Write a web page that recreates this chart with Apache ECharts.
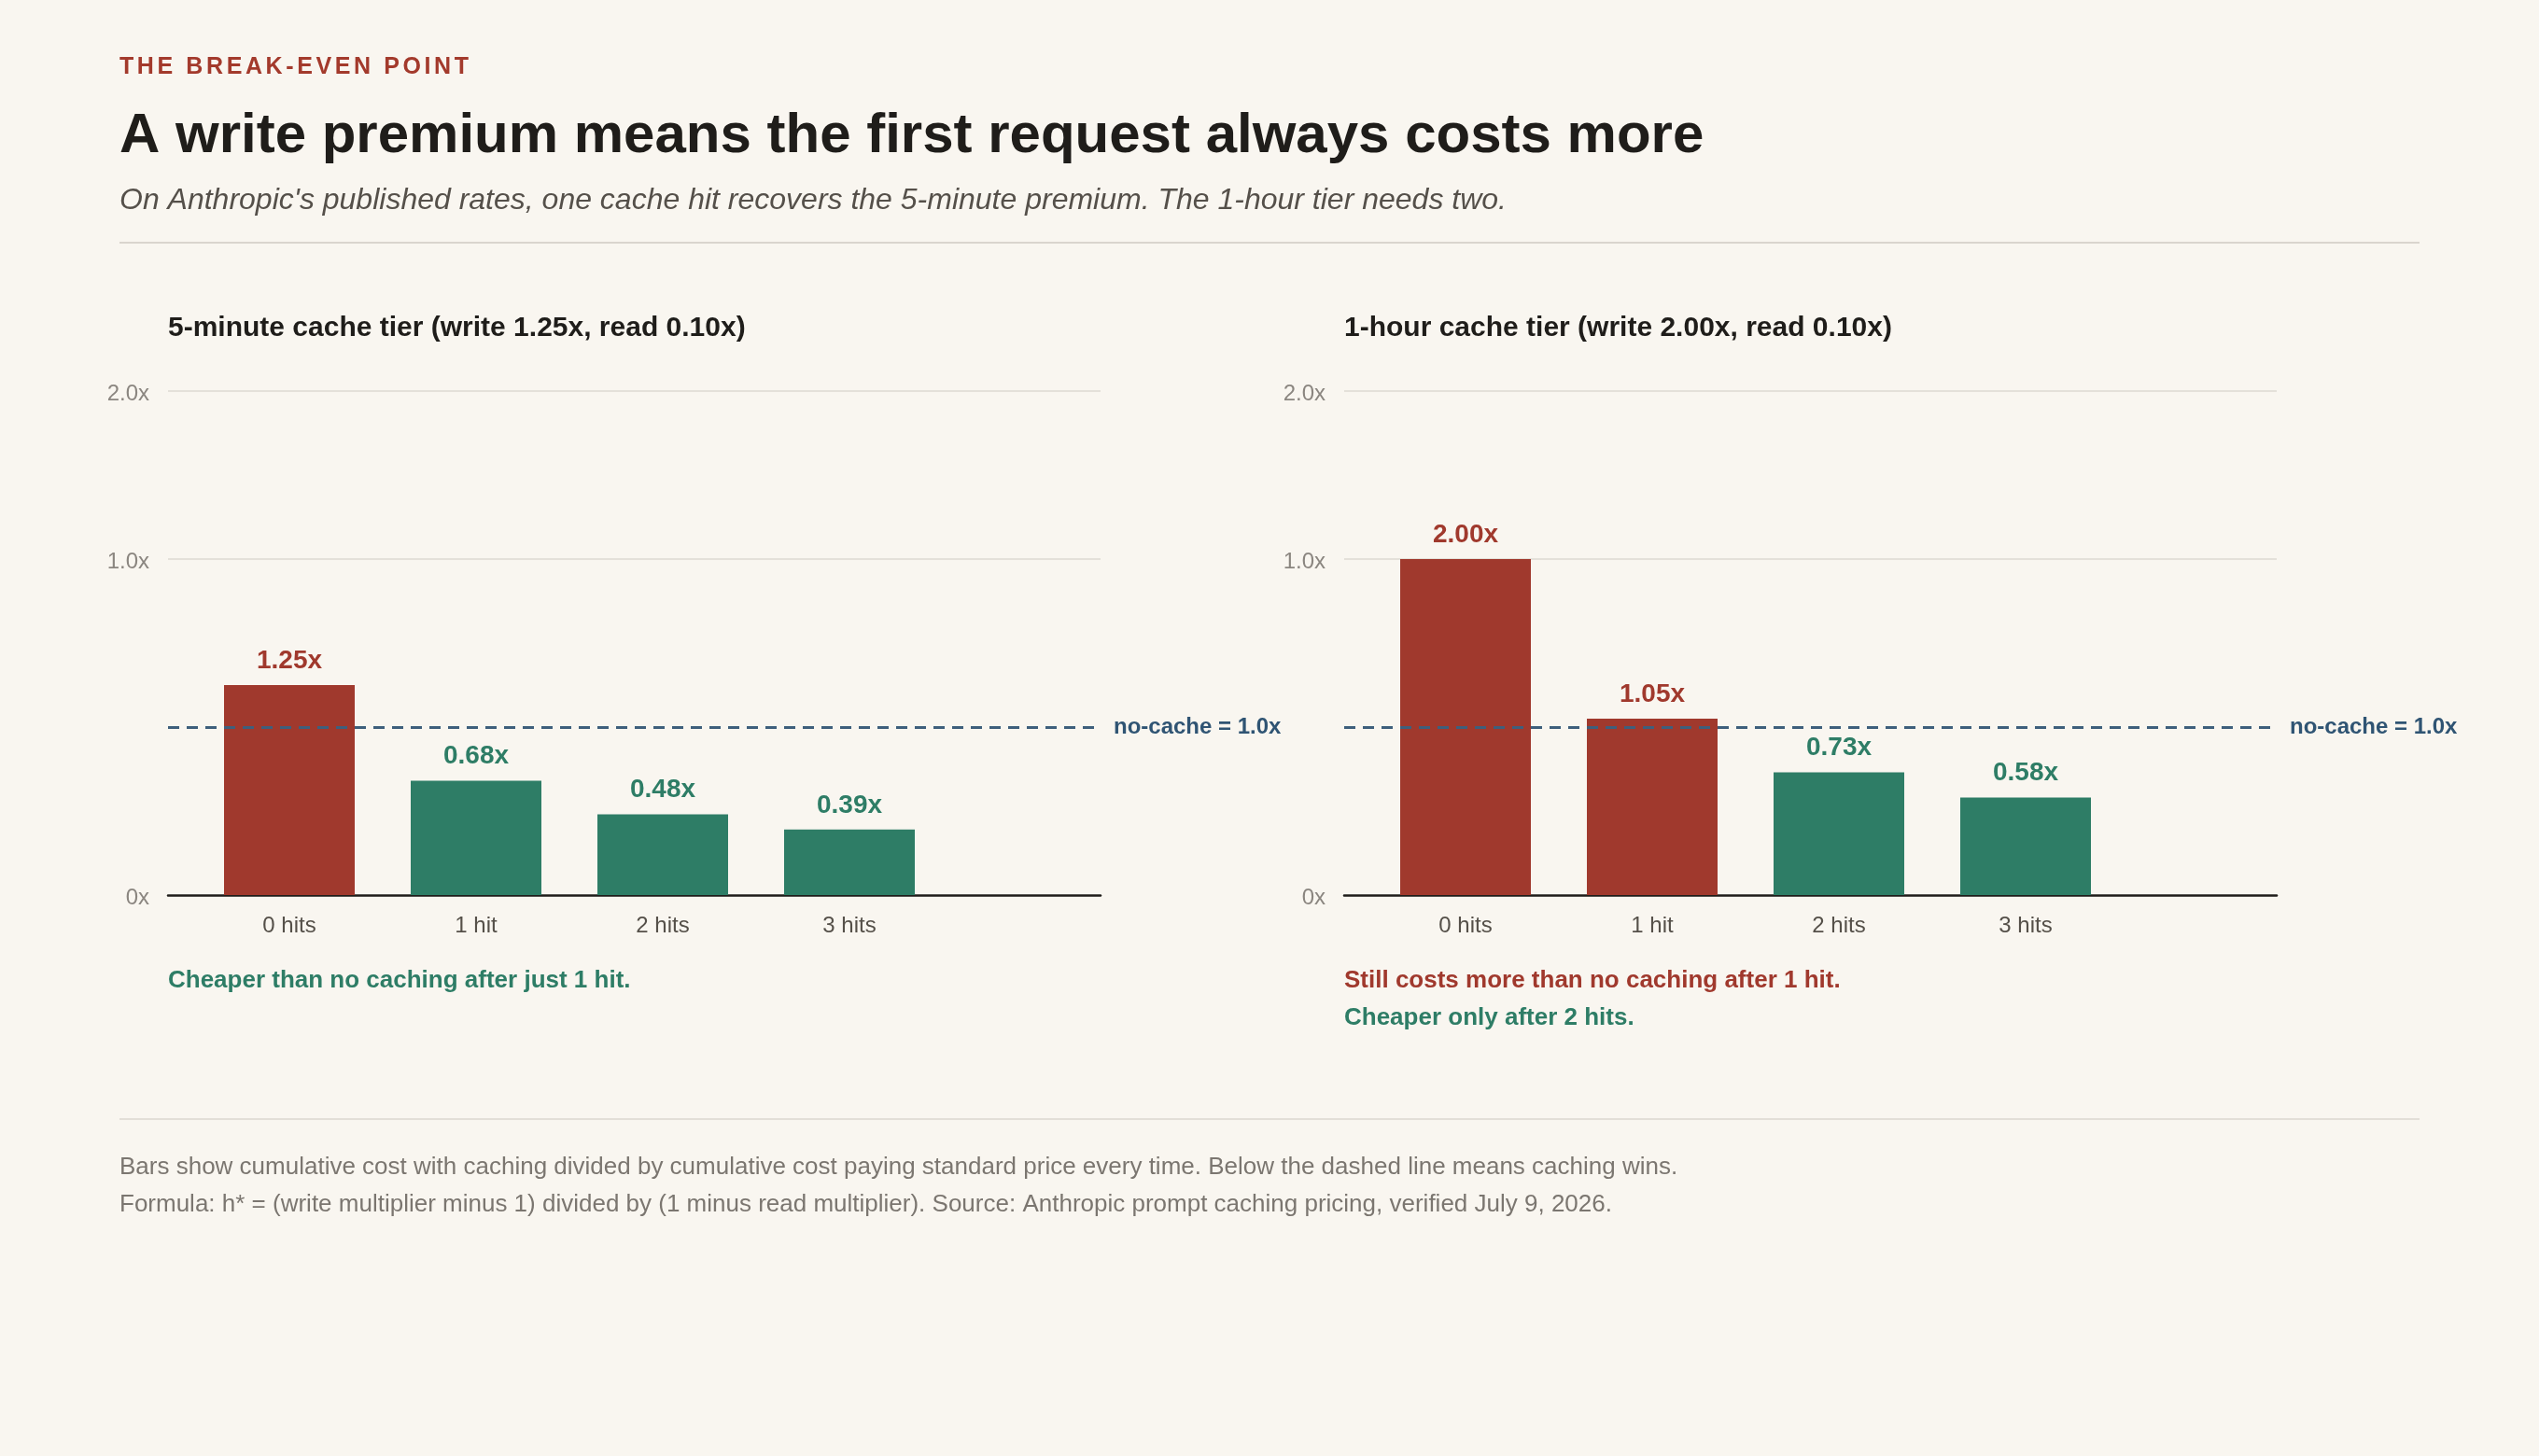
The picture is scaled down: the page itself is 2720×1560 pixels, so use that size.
<!DOCTYPE html>
<html>
<head>
<meta charset="utf-8">
<script src="https://cdn.jsdelivr.net/npm/echarts@6/dist/echarts.min.js"></script>
<style>
html,body{margin:0;padding:0;background:#f9f6f0;}
#wrap{position:relative;width:2720px;height:1560px;}
#chart{width:2720px;height:1560px;}
#eyebrow{position:absolute;left:128px;top:55px;margin:0;font-family:'Liberation Sans',Arial,sans-serif;font-weight:bold;font-size:25px;line-height:30px;letter-spacing:3.6px;color:#a33a2c;white-space:nowrap;}
</style>
</head>
<body>
<div id="wrap">
<div id="chart"></div>
<div id="eyebrow">THE BREAK-EVEN POINT</div>
</div>
<script>
// ---- data ----
const categories = ['0 hits', '1 hit', '2 hits', '3 hits'];
const fiveMinuteValues = [1.25, 0.68, 0.48, 0.39];
const oneHourValues = [2.00, 1.05, 0.73, 0.58];
const yTickLabels = ['0x', '', '1.0x', '2.0x']; // labels as printed on the reference axis (ticks 0..3)
const noCacheValue = 1.0;
const panelTitles = ['5-minute cache tier (write 1.25x, read 0.10x)', '1-hour cache tier (write 2.00x, read 0.10x)'];

// ---- style ----
const FONT = "'Liberation Sans', Arial, sans-serif";
const RED = '#a0392d';
const GREEN = '#2e7d66';
const BG = '#f9f6f0';

const chart = echarts.init(document.getElementById('chart'), null, {renderer: 'canvas'});

const GRID_TOP = 419, GRID_H = 540;
const panels = [{x: 180, values: fiveMinuteValues}, {x: 1440, values: oneHourValues}];

const grid = [], xAxis = [], yAxis = [], series = [];
panels.forEach((p, k) => {
  // frame grid (axis line, gridlines, y labels, reference line)
  grid.push({left: p.x, width: 999, top: GRID_TOP, height: GRID_H});
  // bar grid (category bands)
  grid.push({left: p.x + 30, width: 800, top: GRID_TOP, height: GRID_H});
  const gFrame = 2 * k, gBars = 2 * k + 1;
  xAxis.push({
    gridIndex: gFrame, type: 'value', min: 0, max: 1,
    axisLine: {show: true, onZero: false, lineStyle: {color: '#1f1d1a', width: 2.5}},
    axisTick: {show: false}, axisLabel: {show: false}, splitLine: {show: false}
  });
  xAxis.push({
    gridIndex: gBars, type: 'category', data: categories,
    axisLine: {show: false}, axisTick: {show: false}, splitLine: {show: false},
    axisLabel: {color: '#555049', fontSize: 24, fontFamily: FONT, margin: 21}
  });
  yAxis.push({
    gridIndex: gFrame, type: 'value', min: 0, max: 3, interval: 1,
    axisLine: {show: false}, axisTick: {show: false},
    axisLabel: {color: '#8b8680', fontSize: 24, fontFamily: FONT, margin: 20,
      verticalAlign: 'top', lineHeight: 7,
      formatter: v => yTickLabels[Math.round(v)]},
    splitLine: {show: true, showMinLine: true, showMaxLine: true,
      lineStyle: {color: ['rgba(0,0,0,0)', 'rgba(0,0,0,0)', '#e4e0d9', '#e4e0d9'], width: 2}}
  });
  yAxis.push({
    gridIndex: gBars, type: 'value', min: 0, max: 3, show: false, splitLine: {show: false}
  });
  series.push({
    type: 'line', xAxisIndex: gFrame, yAxisIndex: gFrame, data: [], z: 1,
    silent: true, animation: false,
    markLine: {
      silent: true, symbol: ['none', 'none'], animation: false,
      lineStyle: {color: '#3e5f7c', width: 3, type: [12, 8]},
      label: {show: true, position: 'end', distance: 14, formatter: 'no-cache = 1.0x',
        color: '#2f5473', fontSize: 24, fontWeight: 'bold', fontFamily: FONT},
      emphasis: {disabled: true},
      data: [{yAxis: noCacheValue}]
    }
  });
  series.push({
    type: 'bar', xAxisIndex: gBars, yAxisIndex: gBars, barWidth: '70%', z: 3,
    animation: false,
    data: p.values.map(v => ({value: v, itemStyle: {color: v > noCacheValue ? RED : GREEN},
      label: {color: v > noCacheValue ? RED : GREEN}})),
    label: {show: true, position: 'top', distance: 12, fontSize: 28, fontWeight: 'bold', fontFamily: FONT,
      formatter: q => q.value.toFixed(2) + 'x'}
  });
});

const txt = (x, y, text, size, color, weight, style, align) => ({
  type: 'text', x: x, y: y, silent: true,
  style: {text: text, fontSize: size, fill: color, fontWeight: weight || 'normal', fontStyle: style || 'normal',
    fontFamily: FONT, textAlign: align || 'left', textVerticalAlign: 'middle'}
});

const graphic = [
  txt(128, 146, 'A write premium means the first request always costs more', 60, '#1f1d1a', 'bold'),
  txt(128, 215, "On Anthropic's published rates, one cache hit recovers the 5-minute premium. The 1-hour tier needs two.", 32, '#55504a', 'normal', 'italic'),
  {type: 'rect', shape: {x: 128, y: 259, width: 2464, height: 2}, style: {fill: '#d9d5ce'}, silent: true},
  txt(180, 352, panelTitles[0], 30, '#1f1d1a', 'bold'),
  txt(1440, 352, panelTitles[1], 30, '#1f1d1a', 'bold'),
  txt(180, 1051, 'Cheaper than no caching after just 1 hit.', 26, GREEN, 'bold'),
  txt(1440, 1051, 'Still costs more than no caching after 1 hit.', 26, RED, 'bold'),
  txt(1440, 1091, 'Cheaper only after 2 hits.', 26, GREEN, 'bold'),
  {type: 'rect', shape: {x: 128, y: 1198, width: 2464, height: 2}, style: {fill: '#e2ded7'}, silent: true},
  txt(128, 1251, 'Bars show cumulative cost with caching divided by cumulative cost paying standard price every time. Below the dashed line means caching wins.', 26, '#7b7670'),
  txt(128, 1291, 'Formula: h* = (write multiplier minus 1) divided by (1 minus read multiplier). Source: Anthropic prompt caching pricing, verified July 9, 2026.', 26, '#7b7670')
];

chart.setOption({
  backgroundColor: BG,
  animation: false,
  grid: grid, xAxis: xAxis, yAxis: yAxis, series: series, graphic: graphic
});
</script>
</body>
</html>
